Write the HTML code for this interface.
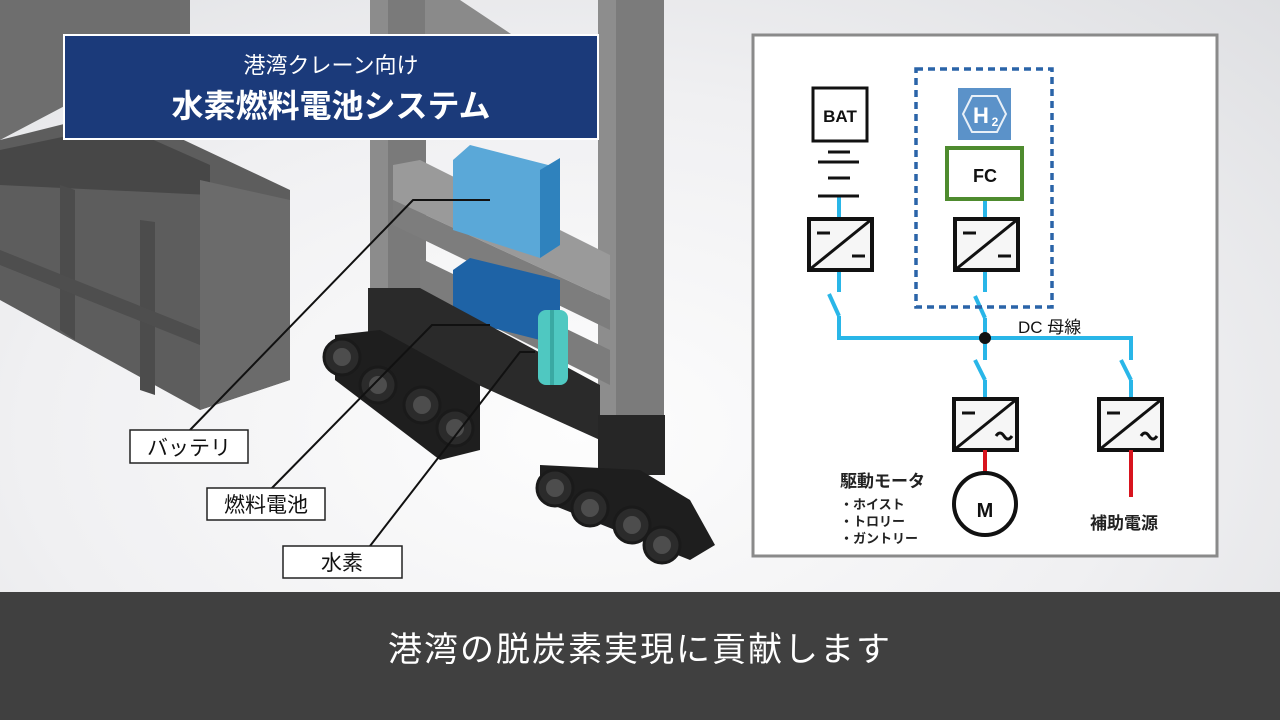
<!DOCTYPE html>
<html><head><meta charset="utf-8"><style>
html,body{margin:0;padding:0;width:1280px;height:720px;overflow:hidden;}
body{background:radial-gradient(ellipse at 45% 60%,#fdfdfd 0%,#f0f0f2 55%,#dedfe2 100%);position:relative;font-family:"Liberation Sans","Noto Sans CJK JP",sans-serif;}
svg{position:absolute;left:0;top:0;}
</style></head><body>
<svg width="1280" height="720" viewBox="0 0 1280 720" font-family="'Liberation Sans','Noto Sans CJK JP',sans-serif">
<!-- crane left container -->
<polygon points="0,0 190,0 190,40 0,140" fill="#6e6e6e"/>
<polygon points="0,140 120,110 290,190 290,380 200,410 0,300" fill="#5d5d5d"/>
<polygon points="0,150 120,125 210,165 210,195 0,185" fill="#474747"/>
<polygon points="200,180 290,200 290,380 200,410" fill="#6b6b6b"/>
<polygon points="140,220 155,222 155,395 140,390" fill="#4c4c4c"/>
<polygon points="60,185 75,190 75,340 60,330" fill="#4c4c4c"/>
<polygon points="0,250 200,330 200,345 0,265" fill="#4e4e4e"/>
<!-- columns -->
<rect x="370" y="0" width="56" height="300" fill="#7a7a7a"/>
<rect x="370" y="0" width="18" height="300" fill="#8c8c8c"/>
<polygon points="425,0 460,0 610,100 610,120 425,40" fill="#8a8a8a"/>
<rect x="598" y="0" width="66" height="475" fill="#7b7b7b"/>
<rect x="598" y="0" width="18" height="475" fill="#8d8d8d"/>
<!-- shelves -->
<polygon points="393,165 420,160 610,255 610,300 393,200" fill="#9a9a9a"/>
<polygon points="393,200 610,300 610,330 393,225" fill="#7d7d7d"/>
<polygon points="420,258 610,350 610,385 420,290" fill="#7c7c7c"/>
<!-- blocks -->
<polygon points="453,160 470,145 560,168 560,245 540,258 453,230" fill="#5aa8d8"/>
<polygon points="540,170 560,158 560,245 540,258" fill="#2f82bd"/>
<polygon points="453,270 470,258 560,280 560,330 540,340 453,318" fill="#1e63a6"/>
<!-- black base -->
<polygon points="368,288 420,288 600,385 600,440 368,335" fill="#2a2a2a"/>
<rect x="598" y="415" width="67" height="60" fill="#262626"/>
<polygon points="335,335 380,330 480,385 480,450 440,460 335,380" fill="#1e1e1e"/>
<polygon points="540,465 640,470 690,500 715,545 690,560 540,500" fill="#1e1e1e"/>
<rect x="538" y="310" width="30" height="75" rx="8" fill="#4fc8c1"/>
<rect x="550" y="310" width="4" height="75" fill="#3aa9a3"/>
<g fill="#2b2b2b" stroke="#1a1a1a" stroke-width="3">
<circle cx="342" cy="357" r="18"/><circle cx="378" cy="385" r="18"/><circle cx="422" cy="405" r="18"/><circle cx="455" cy="428" r="18"/>
<circle cx="555" cy="488" r="18"/><circle cx="590" cy="508" r="18"/><circle cx="632" cy="525" r="18"/><circle cx="662" cy="545" r="18"/>
</g>
<g fill="#4d4d4d"><circle cx="342" cy="357" r="9"/><circle cx="378" cy="385" r="9"/><circle cx="422" cy="405" r="9"/><circle cx="455" cy="428" r="9"/><circle cx="555" cy="488" r="9"/><circle cx="590" cy="508" r="9"/><circle cx="632" cy="525" r="9"/><circle cx="662" cy="545" r="9"/></g>
<!-- leaders -->
<g stroke="#111" stroke-width="2" fill="none">
<polyline points="490,200 413,200 190,430"/>
<polyline points="490,325 432,325 270,490"/>
<polyline points="535,352 520,352 370,546"/>
</g>
<g fill="#fff" stroke="#222" stroke-width="1.5">
<rect x="130" y="430" width="118" height="33"/>
<rect x="207" y="488" width="118" height="32"/>
<rect x="283" y="546" width="119" height="32"/>
</g>
<g font-size="21" fill="#111" text-anchor="middle">
<text x="189" y="455">バッテリ</text>
<text x="266" y="512">燃料電池</text>
<text x="342" y="570">水素</text>
</g>
<!-- title -->
<rect x="64" y="35" width="534" height="104" fill="#1b3a7a" stroke="#fff" stroke-width="2"/>
<text x="331" y="73" font-size="22" fill="#fff" text-anchor="middle">港湾クレーン向け</text>
<text x="331" y="117" font-size="32" font-weight="bold" fill="#fff" text-anchor="middle">水素燃料電池システム</text>
<!-- right panel -->
<rect x="753" y="35" width="464" height="521" fill="#fff" stroke="#8a8a8a" stroke-width="3"/>
<g stroke="#29b6e8" stroke-width="4" fill="none">
<line x1="839" y1="196" x2="839" y2="218"/>
<polyline points="839,271 839,292"/>
<polyline points="839,316 839,338 1131,338 1131,360"/>
<line x1="985" y1="200" x2="985" y2="218"/>
<line x1="985" y1="271" x2="985" y2="292"/>
<line x1="985" y1="318" x2="985" y2="360"/>
<line x1="985" y1="380" x2="985" y2="398"/>
<line x1="1131" y1="380" x2="1131" y2="398"/>
<line x1="829" y1="294" x2="839" y2="316"/>
<line x1="975" y1="296" x2="985" y2="318"/>
<line x1="975" y1="360" x2="985" y2="380"/>
<line x1="1121" y1="360" x2="1131" y2="380"/>
</g>
<circle cx="985" cy="338" r="6" fill="#111"/>
<text x="1018" y="333" font-size="17" fill="#111">DC 母線</text>
<rect x="916" y="69" width="136" height="238" fill="none" stroke="#2a64a8" stroke-width="3.5" stroke-dasharray="7,5"/>
<rect x="813" y="88" width="54" height="53" fill="#fff" stroke="#111" stroke-width="3"/>
<text x="840" y="122" font-size="17" font-weight="bold" text-anchor="middle" fill="#111">BAT</text>
<g stroke="#111" stroke-width="3">
<line x1="828" y1="152" x2="850" y2="152"/><line x1="818" y1="162" x2="859" y2="162"/>
<line x1="828" y1="178" x2="850" y2="178"/><line x1="818" y1="196" x2="859" y2="196"/>
</g>
<rect x="958" y="88" width="53" height="52" fill="#5b92c9"/>
<polygon points="972,96 997,96 1006,114 997,132 972,132 963,114" fill="none" stroke="#e8f0f8" stroke-width="2"/>
<text x="981" y="123" font-size="22" font-weight="bold" fill="#fff" text-anchor="middle">H</text>
<text x="995" y="126" font-size="12" font-weight="bold" fill="#fff" text-anchor="middle">2</text>
<rect x="947" y="148" width="75" height="51" fill="#fff" stroke="#4e8b2e" stroke-width="4"/>
<text x="985" y="182" font-size="18" font-weight="bold" text-anchor="middle" fill="#111">FC</text>
<g stroke="#111" fill="#f6f6f6" stroke-width="4">
<rect x="809" y="219" width="63" height="51"/>
<rect x="955" y="219" width="63" height="51"/>
<rect x="954" y="399" width="63" height="51"/>
<rect x="1099" y="399" width="63" height="51"/>
</g>
<g stroke="#111" stroke-width="3" fill="none">
<line x1="809" y1="270" x2="872" y2="219"/><line x1="817" y1="233" x2="830" y2="233"/><line x1="852" y1="256" x2="865" y2="256"/>
<line x1="955" y1="270" x2="1018" y2="219"/><line x1="963" y1="233" x2="976" y2="233"/><line x1="998" y1="256" x2="1011" y2="256"/>
<line x1="954" y1="450" x2="1017" y2="399"/><line x1="962" y1="413" x2="975" y2="413"/>
<line x1="1099" y1="450" x2="1162" y2="399"/><line x1="1107" y1="413" x2="1120" y2="413"/>
<path d="M996,436 q4,-6 8,0 t8,0"/><path d="M1141,436 q4,-6 8,0 t8,0"/>
</g>
<g stroke="#d8141e" stroke-width="4">
<line x1="985" y1="450" x2="985" y2="472"/>
<line x1="1131" y1="450" x2="1131" y2="497"/>
</g>
<circle cx="985" cy="504" r="31" fill="#fff" stroke="#111" stroke-width="4"/>
<text x="985" y="517" font-size="20" font-weight="bold" text-anchor="middle" fill="#111">M</text>
<text x="840" y="487" font-size="17" font-weight="bold" fill="#222">駆動モータ</text>
<g font-size="13" font-weight="bold" fill="#222">
<text x="840" y="509">・ホイスト</text>
<text x="840" y="526">・トロリー</text>
<text x="840" y="543">・ガントリー</text>
</g>
<text x="1090" y="529" font-size="17" font-weight="bold" fill="#222">補助電源</text>
<rect x="0" y="592" width="1280" height="128" fill="#404040"/>
<text x="640" y="661" font-size="34" fill="#fff" text-anchor="middle" letter-spacing="2">港湾の脱炭素実現に貢献します</text>
</svg>
</body></html>
